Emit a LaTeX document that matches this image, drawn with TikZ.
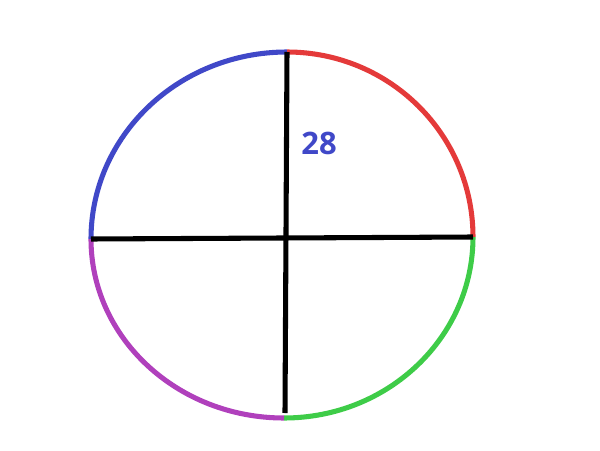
\documentclass[tikz,border=0pt]{standalone}
\usepackage{fontspec}
\newfontfamily\labelfont{Open Sans}
\usepackage{tikz}
\usetikzlibrary{positioning, calc}
\usepackage{xcolor}

\definecolor{rimblue}{RGB}{64,72,200}
\definecolor{rimred}{RGB}{228,58,58}
\definecolor{rimgreen}{RGB}{62,204,72}
\definecolor{rimpurple}{RGB}{176,64,188}

\begin{document}
\begin{tikzpicture}[x=0.025cm, y=0.025cm,
    rim/.style={line width=3.6pt},
    chord/.style={line width=3.6pt, black}]
    \useasboundingbox (0, 0) rectangle (600, 450);

    \coordinate (L) at (91, 211);
    \coordinate (T) at (287, 398);
    \coordinate (R) at (473, 213);
    \coordinate (B) at (284, 32);
    \coordinate (foot) at (285, 37);

    \draw[rim, rimblue] (L) arc[start angle=180, end angle=90, x radius=196, y radius=187];
    \draw[rim, rimred] (T) arc[start angle=90, end angle=0, x radius=186, y radius=185];
    \draw[rim, rimgreen] (R) arc[start angle=0, end angle=-90, x radius=189, y radius=181];
    \draw[rim, rimpurple] (B) arc[start angle=270, end angle=180, x radius=193, y radius=179];

    \draw[chord] (L) -- (R);
    \draw[chord] (T) -- (foot);

    \node[text=rimblue, font=\labelfont\bfseries\fontsize{22}{26}\selectfont] (num) at (319, 306.5) {28};

  \end{tikzpicture}
\end{document}
